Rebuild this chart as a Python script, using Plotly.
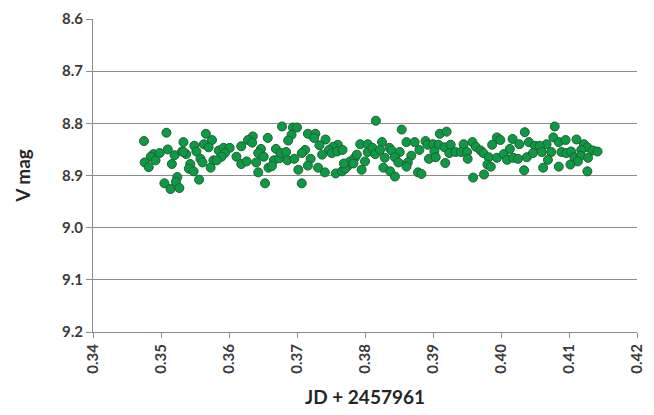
import plotly.graph_objects as go

# Time offsets (JD - 2457961) and V magnitudes of the photometric series
jd = [
    0.3475, 0.3508, 0.3566, 0.3575, 0.3533, 0.3563, 0.3549, 0.3570, 0.3510, 0.3489,
    0.3498, 0.3485, 0.3520, 0.3531, 0.3537, 0.3552, 0.3558, 0.3561, 0.3577, 0.3476,
    0.3492, 0.3482, 0.3516, 0.3543, 0.3541, 0.3548, 0.3573, 0.3524, 0.3522, 0.3556,
    0.3505, 0.3514, 0.3527, 0.3533,
    0.3678, 0.3694, 0.3692, 0.3687, 0.3635, 0.3628, 0.3634, 0.3657, 0.3585, 0.3592,
    0.3601, 0.3594, 0.3589, 0.3582, 0.3618, 0.3611, 0.3618, 0.3626, 0.3647, 0.3643,
    0.3651, 0.3640, 0.3658, 0.3666, 0.3663, 0.3669, 0.3674, 0.3676, 0.3684, 0.3686,
    0.3696, 0.3643, 0.3653,
    0.3816, 0.3700, 0.3716, 0.3727, 0.3725, 0.3742, 0.3733, 0.3760, 0.3753, 0.3747,
    0.3751, 0.3759, 0.3767, 0.3737, 0.3712, 0.3707, 0.3720, 0.3716, 0.3702, 0.3731,
    0.3741, 0.3757, 0.3766, 0.3775, 0.3771, 0.3778, 0.3785, 0.3788, 0.3783, 0.3795,
    0.3800, 0.3793, 0.3804, 0.3804, 0.3811, 0.3815, 0.3707, 0.3769,
    0.3854, 0.3910, 0.3920, 0.3825, 0.3822, 0.3836, 0.3839, 0.3861, 0.3873, 0.3880,
    0.3889, 0.3892, 0.3900, 0.3908, 0.3917, 0.3926, 0.3924, 0.3933, 0.3902, 0.3851,
    0.3844, 0.3829, 0.3868, 0.3863, 0.3849, 0.3894, 0.3904, 0.3918, 0.3861, 0.3827,
    0.3837, 0.3844, 0.3878, 0.3883,
    0.4035, 0.3945, 0.3958, 0.3963, 0.3994, 0.3999, 0.3987, 0.4017, 0.4027, 0.4041,
    0.4050, 0.3941, 0.3950, 0.3951, 0.3970, 0.3974, 0.3982, 0.3994, 0.4004, 0.4009,
    0.4013, 0.4018, 0.4025, 0.4038, 0.4047, 0.3980, 0.3985, 0.3975, 0.3959, 0.4034,
    0.4079, 0.4077, 0.4085, 0.4095, 0.4111, 0.4067, 0.4057, 0.4060, 0.4074, 0.4089,
    0.4096, 0.4103, 0.4122, 0.4127, 0.4118, 0.4135, 0.4142, 0.4108, 0.4117, 0.4069,
    0.4113, 0.4128, 0.4062, 0.4085, 0.4102, 0.4127,
]
vmag = [
    8.834, 8.818, 8.820, 8.832, 8.836, 8.840, 8.843, 8.846, 8.850, 8.859,
    8.857, 8.864, 8.861, 8.854, 8.859, 8.854, 8.868, 8.875, 8.871, 8.875,
    8.871, 8.884, 8.878, 8.878, 8.887, 8.892, 8.885, 8.903, 8.912, 8.908,
    8.915, 8.926, 8.924, 8.855,
    8.806, 8.808, 8.822, 8.833, 8.825, 8.832, 8.837, 8.828, 8.852, 8.847,
    8.847, 8.857, 8.864, 8.871, 8.844, 8.864, 8.878, 8.873, 8.849, 8.857,
    8.864, 8.875, 8.885, 8.871, 8.882, 8.849, 8.867, 8.857, 8.855, 8.871,
    8.868, 8.894, 8.915,
    8.795, 8.808, 8.820, 8.820, 8.828, 8.831, 8.842, 8.841, 8.845, 8.851,
    8.857, 8.854, 8.851, 8.860, 8.851, 8.857, 8.868, 8.881, 8.889, 8.885,
    8.894, 8.896, 8.892, 8.881, 8.887, 8.873, 8.866, 8.860, 8.877, 8.889,
    8.873, 8.840, 8.840, 8.855, 8.847, 8.859, 8.915, 8.877,
    8.812, 8.820, 8.816, 8.836, 8.851, 8.847, 8.852, 8.836, 8.836, 8.851,
    8.834, 8.841, 8.840, 8.841, 8.846, 8.841, 8.857, 8.855, 8.854, 8.855,
    8.865, 8.866, 8.862, 8.875, 8.875, 8.868, 8.865, 8.876, 8.883, 8.885,
    8.892, 8.902, 8.894, 8.897,
    8.817, 8.840, 8.836, 8.845, 8.827, 8.832, 8.841, 8.830, 8.840, 8.836,
    8.843, 8.855, 8.855, 8.868, 8.852, 8.857, 8.865, 8.866, 8.859, 8.870,
    8.849, 8.866, 8.868, 8.865, 8.857, 8.879, 8.883, 8.898, 8.904, 8.890,
    8.806, 8.827, 8.836, 8.832, 8.831, 8.840, 8.843, 8.855, 8.855, 8.855,
    8.857, 8.854, 8.840, 8.846, 8.851, 8.852, 8.854, 8.865, 8.862, 8.870,
    8.873, 8.866, 8.885, 8.883, 8.879, 8.892,
]

y_ticks = [8.6, 8.7, 8.8, 8.9, 9.0, 9.1, 9.2]
x_ticks = [0.34, 0.35, 0.36, 0.37, 0.38, 0.39, 0.40, 0.41, 0.42]

label_font = dict(family="Lato, Open Sans, sans-serif", size=15, color="#3a3a3a", weight="bold")
title_font = dict(family="Lato, Open Sans, sans-serif", size=19, color="#262626", weight="bold")

fig = go.Figure(
    go.Scatter(
        x=jd,
        y=vmag,
        mode="markers",
        marker=dict(size=9, color="#0e9a44", line=dict(color="#1f5f33", width=1)),
        showlegend=False,
    )
)

fig.update_layout(
    width=654,
    height=415,
    margin=dict(l=93, r=9, t=18, b=83),
    paper_bgcolor="white",
    plot_bgcolor="white",
)

fig.update_xaxes(
    range=[0.34, 0.42],
    tickvals=x_ticks,
    ticktext=[f"<b>{v:.2f}</b>" for v in x_ticks],
    tickangle=-90,
    ticks="outside",
    ticklen=5,
    tickcolor="#8c8c8c",
    showline=True,
    linecolor="#8c8c8c",
    linewidth=1,
    showgrid=False,
    zeroline=False,
    tickfont=label_font,
    title=dict(text="JD + 2457961", font=title_font, standoff=18),
)

fig.update_yaxes(
    range=[9.2, 8.6],
    tickvals=y_ticks,
    ticktext=[f"{v:.1f}" for v in y_ticks],
    ticks="outside",
    ticklen=6,
    tickcolor="#8c8c8c",
    showline=True,
    linecolor="#8c8c8c",
    linewidth=1,
    showgrid=True,
    gridcolor="#8c8c8c",
    gridwidth=1,
    zeroline=False,
    tickfont=label_font,
    title=dict(text="V mag", font=title_font, standoff=26),
)

fig.write_html("out.html")
